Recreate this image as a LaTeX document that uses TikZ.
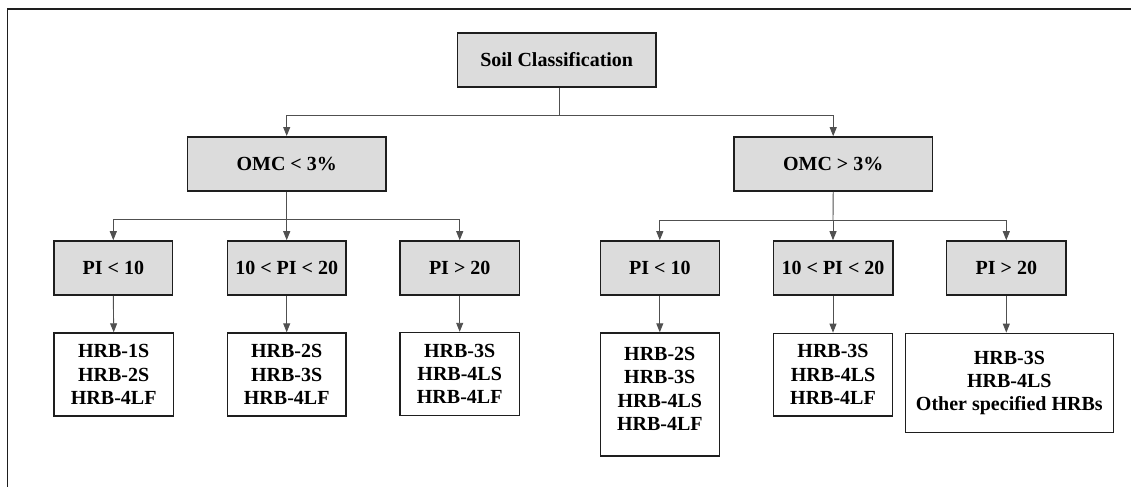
\documentclass[tikz,border=0pt]{standalone}
\usepackage{fontspec}
\setmainfont{Liberation Serif}
\usetikzlibrary{arrows.meta}

\definecolor{boxfill}{HTML}{DCDCDC}
\definecolor{boxline}{HTML}{1E1E1E}
\definecolor{wire}{HTML}{505050}

\begin{document}
\begin{tikzpicture}[x=1pt, y=-1pt,
  every node/.style={font=\bfseries\fontsize{20}{23.3}\selectfont, align=center, inner sep=0pt},
  headbox/.style={draw=boxline, line width=1.6pt, fill=boxfill},
  resbox/.style={draw=boxline, line width=1.4pt, fill=white},
  wireline/.style={draw=wire, line width=0.9pt},
  arr/.style={wireline, -{Triangle[length=9pt, width=7pt]}}
]
% page extent and the partial outer frame (top and left edges)
\useasboundingbox (0,0) rectangle (1131,487);
\draw[boxline, line width=1.3pt] (1131,9) -- (7.5,9) -- (7.5,487);

% root
\node[headbox, minimum width=198.7pt, minimum height=53.4pt] (soil) at (556.7,60) {Soil Classification};

% organic matter content
\node[headbox, minimum width=198.7pt, minimum height=54pt] (omcL) at (286.7,163.8) {OMC < 3\%};
\node[headbox, minimum width=198.3pt, minimum height=54pt] (omcR) at (833.2,164) {OMC > 3\%};

% plasticity index, low OMC
\node[headbox, minimum width=118.7pt, minimum height=54pt] (piL1) at (113.3,268) {PI < 10};
\node[headbox, minimum width=118.7pt, minimum height=54pt] (piL2) at (286.7,268) {10 < PI < 20};
\node[headbox, minimum width=119.3pt, minimum height=54pt] (piL3) at (459.7,268) {PI > 20};

% plasticity index, high OMC
\node[headbox, minimum width=119pt, minimum height=54pt] (piR1) at (659.8,268) {PI < 10};
\node[headbox, minimum width=119.4pt, minimum height=54pt] (piR2) at (833,268) {10 < PI < 20};
\node[headbox, minimum width=119.3pt, minimum height=54pt] (piR3) at (1006.3,268) {PI > 20};

% resulting HRB types
\node[resbox, minimum width=119.3pt, minimum height=83pt] (hL1) at (113.7,374.5) {HRB-1S\\HRB-2S\\HRB-4LF};
\node[resbox, minimum width=118.7pt, minimum height=83pt] (hL2) at (286.7,374.5) {HRB-2S\\HRB-3S\\HRB-4LF};
\node[resbox, minimum width=119.3pt, minimum height=83pt] (hL3) at (459.7,374) {HRB-3S\\HRB-4LS\\HRB-4LF};
\node[resbox, minimum width=119pt, minimum height=123pt] (hR1) at (659.8,394.5) {HRB-2S\\HRB-3S\\HRB-4LS\\HRB-4LF\\[-12pt]\mbox{}};
\node[resbox, minimum width=119.4pt, minimum height=82.7pt] (hR2) at (833,374.7) {HRB-3S\\HRB-4LS\\HRB-4LF};
\node[resbox, minimum width=208pt, minimum height=99.4pt] (hR3) at (1009.3,383) {HRB-3S\\HRB-4LS\\Other specified HRBs};

% root to OMC branches
\coordinate (j0) at (559.3,115);
\draw[wireline] ([xshift=2.6pt]soil.south) -- (j0);
\draw[arr] (j0) -| (omcL.north);
\draw[arr] (j0) -| (omcR.north);

% OMC < 3% to plasticity classes
\coordinate (j1) at (286.7,219.5);
\draw[wireline] (omcL.south) -- (j1);
\draw[arr] (j1) -| (piL1.north);
\draw[arr] (j1) -- (piL2.north);
\draw[arr] (j1) -| (piL3.north);

% OMC > 3% to plasticity classes
\coordinate (j2) at (833,220);
\draw[wireline] (omcR.south) -- (j2);
\draw[arr] (j2) -| (piR1.north);
\draw[arr] (j2) -- (piR2.north);
\draw[arr] (j2) -| (piR3.north);

% plasticity classes to HRB types
\draw[arr] (piL1.south) -- (hL1.north);
\draw[arr] (piL2.south) -- (hL2.north);
\draw[arr] (piL3.south) -- (hL3.north);
\draw[arr] (piR1.south) -- (hR1.north);
\draw[arr] (piR2.south) -- (hR2.north);
\draw[arr] (piR3.south) -- (piR3.south |- hR3.north);
\end{tikzpicture}
\end{document}
